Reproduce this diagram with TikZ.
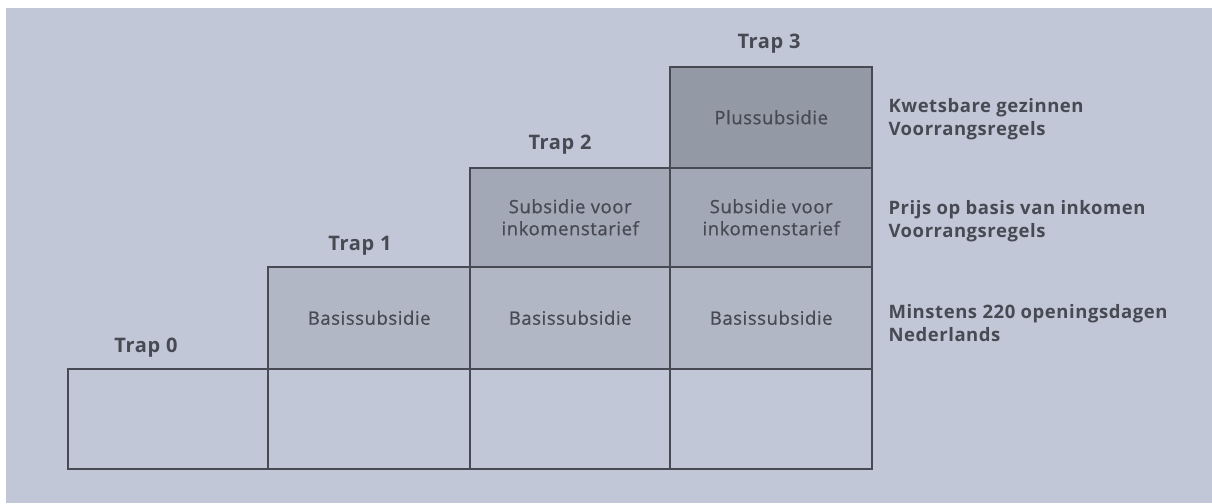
\documentclass[tikz,border=0pt]{standalone}
\usepackage{fontspec}
\setmainfont{Open Sans}
\newfontfamily\cellfont[LetterSpace=3,FakeBold=0.7]{Open Sans}
\newfontfamily\labfont[LetterSpace=3]{Open Sans}
\definecolor{bgc}{HTML}{C1C7D6}
\definecolor{basc}{HTML}{B2B7C5}
\definecolor{midc}{HTML}{A3A8B6}
\definecolor{plusc}{HTML}{9499A6}
\definecolor{inkc}{HTML}{474A53}
\begin{document}
\begin{tikzpicture}[x=1pt,y=1pt,
  cell/.style={draw=inkc, line width=2.4pt, inner sep=0pt, anchor=south west, text=inkc, font=\cellfont\fontsize{18.5}{22}\selectfont, align=center},
  traplab/.style={text=inkc, font=\labfont\fontsize{20}{22}\selectfont\bfseries},
  sidelab/.style={text=inkc, font=\labfont\fontsize{18.5}{23}\selectfont\bfseries, align=left, anchor=west}]
\useasboundingbox (0,0) rectangle (1212,503);
\fill[white] (0,0) rectangle (1212,503);
\fill[bgc] (6,0) rectangle (1212,495);
% bottom row (Trap 0 level)
\node[cell, minimum width=200pt, minimum height=100pt] (b0) at (67,33) {};
\node[cell, minimum width=202pt, minimum height=100pt] (b1) at (267,33) {};
\node[cell, minimum width=200pt, minimum height=100pt] (b2) at (469,33) {};
\node[cell, minimum width=202pt, minimum height=100pt] (b3) at (669,33) {};
% basis row
\node[cell, fill=basc, minimum width=202pt, minimum height=102pt] (r1a) at (267,133) {Basissubsidie};
\node[cell, fill=basc, minimum width=200pt, minimum height=102pt] (r1b) at (469,133) {Basissubsidie};
\node[cell, fill=basc, minimum width=202pt, minimum height=102pt] (r1c) at (669,133) {Basissubsidie};
% inkomenstarief row
\node[cell, fill=midc, minimum width=200pt, minimum height=99pt] (r2a) at (469,235) {Subsidie voor\\inkomenstarief};
\node[cell, fill=midc, minimum width=202pt, minimum height=99pt] (r2b) at (669,235) {Subsidie voor\\inkomenstarief};
% plus row
\node[cell, fill=plusc, minimum width=202pt, minimum height=101pt] (r3) at (669,334) {Plussubsidie};
% trap labels
\node[traplab] (t0) at (146,155) {Trap 0};
\node[traplab] (t1) at (360,257) {Trap 1};
\node[traplab] (t2) at (560,358) {Trap 2};
\node[traplab] (t3) at (769,459) {Trap 3};
% side labels
\node[sidelab] (s3) at (885,384) {Kwetsbare gezinnen\\Voorrangsregels};
\node[sidelab] (s2) at (885,282) {Prijs op basis van inkomen\\Voorrangsregels};
\node[sidelab] (s1) at (885,180) {Minstens 220 openingsdagen\\Nederlands};
\end{tikzpicture}
\end{document}
